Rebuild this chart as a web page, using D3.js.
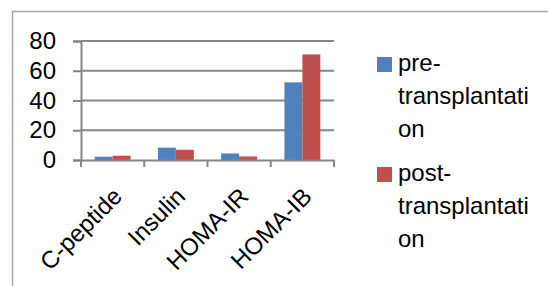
<!doctype html>
<html>

<head>
    <meta charset="utf-8">
    <title>C-peptide / Insulin / HOMA</title>
    <script type="text/javascript" src="https://cdn.jsdelivr.net/npm/d3@7/dist/d3.min.js"></script>
    <style type="text/css">
        html,
        body {
            margin: 0;
            padding: 0;
            background: #fff;
        }

        #chart svg {
            display: block;
            font-family: "Liberation Sans", Arial, sans-serif;
        }
    </style>
</head>

<body>
    <div id="chart"></div>

    <script type="text/javascript">
        var categories = ["C-peptide", "Insulin", "HOMA-IR", "HOMA-IB"]
        var seriesNames = ["pre-transplantation", "post-transplantation"]
        var preValues = [2.2, 8.3, 4.4, 52.2]
        var postValues = [2.9, 6.9, 2.4, 71.0]
        var yTicks = [0, 20, 40, 60, 80]
        // legend text wraps like the original, one entry per line
        var legendLines = [
            ["pre-", "transplantati", "on"],
            ["post-", "transplantati", "on"]
        ]

        var colors = ["#4f81bd", "#c0504d"]
        var values = [preValues, postValues]

        var width = 548,
            height = 286
        var fontSize = 24

        var svg = d3.select("#chart")
            .append("svg")
            .attr("width", width)
            .attr("height", height)

        // outer chart frame (only top and left edges show in the crop)
        svg.append("path")
            .attr("d", "M12.5," + height + "V11.5H" + width)
            .style("fill", "none")
            .style("stroke", "#a6a6a6")
            .style("stroke-width", 1.5)

        var x0 = d3.scaleBand()
            .domain(categories)
            .range([81, 334])
            .paddingInner(0)
            .paddingOuter(0)

        var x1 = d3.scaleBand()
            .domain(seriesNames)
            .range([0, x0.bandwidth()])
            .paddingInner(0)
            .paddingOuter(0.76)

        var y = d3.scaleLinear()
            .domain([0, 80])
            .range([160, 41])

        // gridlines
        svg.append("g")
            .selectAll("line")
            .data(yTicks.filter(function (d) { return d > 0 }))
            .enter()
            .append("line")
            .attr("x1", x0.range()[0])
            .attr("x2", x0.range()[1])
            .attr("y1", function (d) { return y(d) })
            .attr("y2", function (d) { return y(d) })
            .style("stroke", "#868686")
            .style("stroke-width", 2)

        // bars
        var groups = svg.append("g")
            .selectAll("g")
            .data(categories)
            .enter()
            .append("g")
            .attr("transform", function (d) { return "translate(" + x0(d) + ",0)" })

        groups.selectAll("rect")
            .data(function (d, i) {
                return seriesNames.map(function (s, j) {
                    return { series: s, value: values[j][i], color: colors[j] }
                })
            })
            .enter()
            .append("rect")
            .attr("x", function (d) { return x1(d.series) })
            .attr("width", x1.bandwidth())
            .attr("y", function (d) { return y(d.value) })
            .attr("height", function (d) { return y(0) - y(d.value) })
            .style("fill", function (d) { return d.color })

        // y axis
        var yAxis = svg.append("g")
            .attr("transform", "translate(81,0)")
            .call(d3.axisLeft(y).tickValues(yTicks).tickSize(8).tickPadding(17))

        // x axis with ticks at band boundaries
        var xAxis = svg.append("g")
            .attr("transform", "translate(0," + y(0) + ")")
            .call(d3.axisBottom(x0).tickSize(0).tickFormat(""))

        xAxis.selectAll(".tick").remove()
        xAxis.selectAll(".sep")
            .data(categories.map(function (d) { return x0(d) + x0.bandwidth() }).concat([x0.range()[0]]))
            .enter()
            .append("line")
            .attr("class", "sep")
            .attr("x1", function (d) { return d })
            .attr("x2", function (d) { return d })
            .attr("y1", 0)
            .attr("y2", 7)

        svg.selectAll(".domain, .tick line, .sep")
            .style("stroke", "#868686")
            .style("stroke-width", 2)

        yAxis.selectAll("text")
            .style("font-size", fontSize + "px")
            .style("fill", "#000")
            .style("font-family", "inherit")

        // rotated category labels
        svg.append("g")
            .selectAll("text")
            .data(categories)
            .enter()
            .append("text")
            .attr("transform", function (d) {
                return "translate(" + (x0(d) + x0.bandwidth() / 2 - 1) + ",186) rotate(-45)"
            })
            .attr("text-anchor", "end")
            .attr("dy", "0.7em")
            .style("font-size", fontSize + "px")
            .text(function (d) { return d })

        // legend
        var legend = svg.append("g")
            .selectAll("g")
            .data(seriesNames)
            .enter()
            .append("g")
            .attr("transform", function (d, i) { return "translate(377," + (57 + i * 110) + ")" })

        legend.append("rect")
            .attr("width", 15)
            .attr("height", 15)
            .style("fill", function (d, i) { return colors[i] })

        legend.append("text")
            .attr("x", 21)
            .attr("y", 14)
            .style("font-size", fontSize + "px")
            .selectAll("tspan")
            .data(function (d, i) { return legendLines[i] })
            .enter()
            .append("tspan")
            .attr("x", 21)
            .attr("dy", function (d, i) { return i === 0 ? 0 : 33 })
            .text(function (d) { return d })
    </script>
</body>

</html>
